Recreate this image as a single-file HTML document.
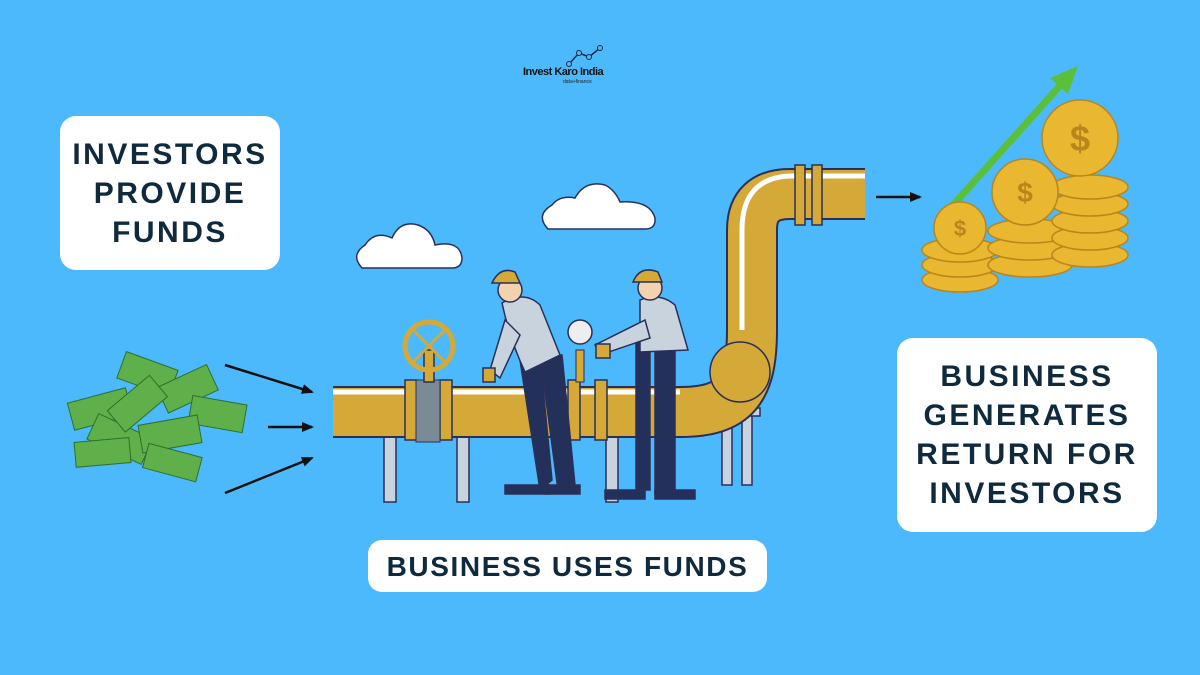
<!DOCTYPE html>
<html><head><meta charset="utf-8"><style>
html,body{margin:0;padding:0}
body{width:1200px;height:675px;background:#4cb9fc;position:relative;overflow:hidden;font-family:"Liberation Sans",sans-serif}
.box{position:absolute;background:#fff;border-radius:16px;display:flex;align-items:center;justify-content:center;text-align:center;color:#0f2a3d;font-weight:bold;font-size:30px;letter-spacing:2.5px;line-height:39px;white-space:nowrap}
svg{position:absolute;left:0;top:0}
</style></head><body>
<svg width="1200" height="675" viewBox="0 0 1200 675">
<defs><marker id="ah" markerWidth="12" markerHeight="12" refX="10" refY="6" orient="auto" markerUnits="userSpaceOnUse"><path d="M0,1 L12,6 L0,11 z" fill="#111"/></marker></defs>
<!-- logo -->
<polyline points="569,64 579,53 589,57 600,48" fill="none" stroke="#1a2a3a" stroke-width="1.5"/>
<circle cx="569" cy="64" r="2.5" fill="#4cb9fc" stroke="#1a2a3a"/><circle cx="579" cy="53" r="2.5" fill="#4cb9fc" stroke="#1a2a3a"/><circle cx="589" cy="57" r="2.5" fill="#4cb9fc" stroke="#1a2a3a"/><circle cx="600" cy="48" r="2.5" fill="#4cb9fc" stroke="#1a2a3a"/>
<text x="523" y="75" font-family="Liberation Sans" font-weight="bold" font-size="11" fill="#111" letter-spacing="-0.5">Invest Karo India</text>
<text x="563" y="83" font-family="Liberation Sans" font-size="5" fill="#222">data+finance</text>
<!-- clouds -->
<g fill="#fff" stroke="#2a2f5a" stroke-width="1.5">
<path d="M362,268 Q350,255 365,245 Q375,230 392,238 Q400,220 418,225 Q432,230 435,245 Q460,240 462,258 Q462,268 452,268 Z"/>
<path d="M548,229 Q535,215 552,205 Q560,195 575,198 Q585,180 605,185 Q615,190 620,202 Q650,200 655,218 Q656,229 645,229 Z"/>
</g>
<!-- supports -->
<g fill="#c8d3de" stroke="#2a2f5a" stroke-width="1.5">
<rect x="384" y="430" width="12" height="72"/><rect x="457" y="430" width="12" height="72"/><rect x="606" y="430" width="12" height="72"/><rect x="722" y="410" width="10" height="75"/><rect x="742" y="410" width="10" height="75"/>
<rect x="712" y="408" width="48" height="8"/>
</g>
<!-- pipe -->
<path d="M333,412 H680 C735,412 752,390 752,330 V230 Q752,194 790,194 H865" fill="none" stroke="#2a2f5a" stroke-width="52"/>
<path d="M333,412 H680 C735,412 752,390 752,330 V230 Q752,194 790,194 H865" fill="none" stroke="#d5a937" stroke-width="48"/>
<path d="M333,392 H680" stroke="#fff" stroke-width="5"/>
<path d="M742,330 V230 Q742,178 790,176 H865" fill="none" stroke="#fff" stroke-width="5"/>
<g fill="#d5a937" stroke="#2a2f5a" stroke-width="1.5">
<rect x="405" y="380" width="12" height="60"/><rect x="440" y="380" width="12" height="60"/>
<rect x="568" y="380" width="12" height="60"/><rect x="595" y="380" width="12" height="60"/>
<rect x="795" y="165" width="10" height="60"/><rect x="812" y="165" width="10" height="60"/>
<ellipse cx="740" cy="372" rx="30" ry="30"/>
</g>
<rect x="416" y="380" width="24" height="62" fill="#7b8b96" stroke="#2a2f5a"/>
<!-- valve -->
<g stroke="#2a2f5a" stroke-width="1.5" fill="none">
<rect x="424" y="350" width="10" height="32" fill="#d5a937"/>
<circle cx="429" cy="346" r="24" stroke="#d5a937" stroke-width="5"/>
<line x1="413" y1="330" x2="445" y2="362" stroke="#d5a937" stroke-width="3"/><line x1="445" y1="330" x2="413" y2="362" stroke="#d5a937" stroke-width="3"/>
</g>
<!-- gauge -->
<rect x="576" y="350" width="8" height="32" fill="#d5a937" stroke="#2a2f5a"/>
<circle cx="580" cy="332" r="12" fill="#eee" stroke="#2a2f5a" stroke-width="1.5"/>
<!-- workers -->
<g stroke="#2a2f5a" stroke-width="1.5">
<path d="M520,360 L540,355 L552,480 L540,490 Z" fill="#233059"/>
<path d="M540,355 L562,355 L575,485 L558,490 Z" fill="#233059"/>
<path d="M502,303 Q525,290 540,305 L560,355 L525,372 Q510,340 502,303Z" fill="#c8d3de"/>
<path d="M505,320 L490,370 L500,378 L520,335Z" fill="#c8d3de"/>
<circle cx="510" cy="290" r="12" fill="#f3d2b0"/>
<path d="M492,283 Q500,266 515,272 L520,283 Z" fill="#d5a937"/>
<rect x="505" y="485" width="45" height="9" fill="#233059"/><rect x="545" y="485" width="35" height="9" fill="#233059"/>
<rect x="483" y="368" width="12" height="14" fill="#d5a937"/>
<rect x="636" y="340" width="14" height="150" fill="#233059"/><rect x="655" y="340" width="20" height="155" fill="#233059"/>
<path d="M640,300 Q660,292 675,305 L688,350 L640,352 Z" fill="#c8d3de"/>
<path d="M645,320 L595,345 L600,355 L650,338Z" fill="#c8d3de"/>
<circle cx="650" cy="288" r="12" fill="#f3d2b0"/>
<path d="M633,282 Q640,265 658,272 L662,282 Z" fill="#d5a937"/>
<rect x="605" y="490" width="40" height="9" fill="#233059"/><rect x="655" y="490" width="40" height="9" fill="#233059"/>
<rect x="596" y="344" width="14" height="14" fill="#d5a937"/>
</g>
<!-- money -->
<g fill="#5fb04a" stroke="#2f6e2a" stroke-width="1">
<rect x="70" y="395" width="60" height="28" transform="rotate(-15 100 409)"/>
<rect x="120" y="360" width="55" height="28" transform="rotate(20 147 374)"/>
<rect x="160" y="375" width="55" height="28" transform="rotate(-25 187 389)"/>
<rect x="190" y="400" width="55" height="28" transform="rotate(10 217 414)"/>
<rect x="90" y="425" width="60" height="28" transform="rotate(25 120 439)"/>
<rect x="140" y="420" width="60" height="28" transform="rotate(-10 170 434)"/>
<rect x="75" y="440" width="55" height="25" transform="rotate(-5 102 452)"/>
<rect x="145" y="450" width="55" height="25" transform="rotate(15 172 462)"/>
<rect x="110" y="390" width="55" height="28" transform="rotate(-40 137 404)"/>
</g>
<!-- coins -->
<line x1="938" y1="222" x2="1065" y2="80" stroke="#5cbf3a" stroke-width="7"/>
<path d="M1078,66 L1050,78 L1068,94 Z" fill="#5cbf3a"/>
<g fill="#e9b730" stroke="#b8861a" stroke-width="1.5">
<ellipse cx="960" cy="280" rx="38" ry="12"/><ellipse cx="960" cy="265" rx="38" ry="12"/><ellipse cx="960" cy="250" rx="38" ry="12"/>
<ellipse cx="1030" cy="265" rx="42" ry="12"/><ellipse cx="1030" cy="248" rx="42" ry="12"/><ellipse cx="1030" cy="231" rx="42" ry="12"/>
<ellipse cx="1090" cy="255" rx="38" ry="12"/><ellipse cx="1090" cy="238" rx="38" ry="12"/><ellipse cx="1090" cy="221" rx="38" ry="12"/><ellipse cx="1090" cy="204" rx="38" ry="12"/><ellipse cx="1090" cy="187" rx="38" ry="12"/>
<circle cx="960" cy="228" r="26"/><circle cx="1025" cy="192" r="33"/><circle cx="1080" cy="138" r="38"/>
</g>
<g font-family="Liberation Sans" font-weight="bold" fill="#b8861a" text-anchor="middle"><text x="960" y="236" font-size="22">$</text><text x="1025" y="202" font-size="28">$</text><text x="1080" y="151" font-size="36">$</text></g>
<!-- arrows -->
<g stroke="#111" stroke-width="2.5" marker-end="url(#ah)">
<line x1="225" y1="365" x2="312" y2="392"/><line x1="268" y1="427" x2="312" y2="427"/><line x1="225" y1="493" x2="312" y2="458"/><line x1="876" y1="197" x2="920" y2="197"/>
</g>
</svg>
<div class="box" style="left:60px;top:116px;width:220px;height:154px">INVESTORS<br>PROVIDE<br>FUNDS</div>
<div class="box" style="left:897px;top:338px;width:260px;height:194px">BUSINESS<br>GENERATES<br>RETURN FOR<br>INVESTORS</div>
<div class="box" style="left:368px;top:540px;width:399px;height:52px;border-radius:14px;font-size:28px;letter-spacing:1.6px">BUSINESS USES FUNDS</div>
</body></html>
